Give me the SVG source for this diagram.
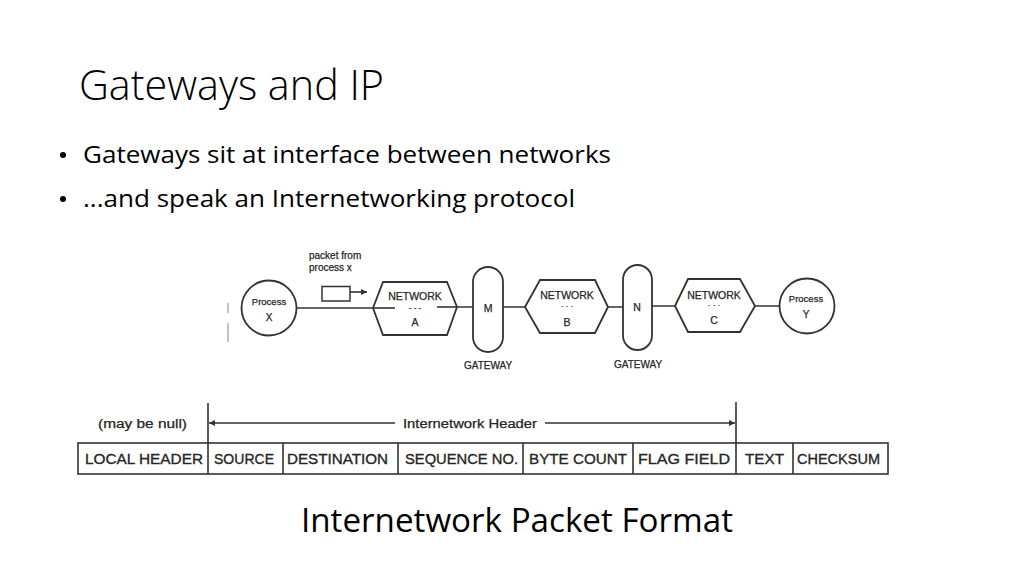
<svg xmlns="http://www.w3.org/2000/svg" width="1024" height="576" viewBox="0 0 1024 576">
<defs>
<style>
.slide{font-family:"Open Sans","Noto Sans",sans-serif;fill:#000}
.d{font-family:"Liberation Sans",Arial,sans-serif;fill:#262626;stroke:#262626;stroke-width:0.25}
.ln{stroke:#333;stroke-width:1.6;fill:none}
.sh{stroke:#333;stroke-width:1.8;fill:#fff}
.cell{font-family:"Liberation Sans",Arial,sans-serif;fill:#262626;stroke:#262626;stroke-width:0.35;font-size:15px}
</style>
<marker id="ah" viewBox="0 0 10 10" refX="10" refY="5" markerWidth="9" markerHeight="6" orient="auto-start-reverse" markerUnits="userSpaceOnUse">
<path d="M0,0 L10,5 L0,10 z" fill="#333"/>
</marker>
</defs>
<rect width="1024" height="576" fill="#fff"/>

<text class="slide" x="79" y="100" font-size="42" font-weight="300" textLength="305" lengthAdjust="spacingAndGlyphs">Gateways and IP</text>
<g id="bullets">
<circle cx="63" cy="155" r="3" fill="#000"/>
<text class="slide" x="83" y="163" font-size="23" textLength="528" lengthAdjust="spacingAndGlyphs">Gateways sit at interface between networks</text>
<circle cx="63" cy="199" r="3" fill="#000"/>
<text class="slide" x="83" y="207" font-size="23" textLength="492" lengthAdjust="spacingAndGlyphs">...and speak an Internetworking protocol</text>
</g>

<g id="connectors">
<line class="ln" x1="297" y1="308" x2="395" y2="308"/>
<line class="ln" x1="437" y1="307" x2="473" y2="307"/>
<line class="ln" x1="503" y1="307" x2="550" y2="307"/>
<line class="ln" x1="585" y1="307" x2="623" y2="307"/>
<line class="ln" x1="652" y1="306" x2="695" y2="306"/>
<line class="ln" x1="738" y1="306" x2="779" y2="306"/>
<line class="ln" x1="350" y1="292" x2="367" y2="292" marker-end="url(#ah)"/>
<line x1="228" y1="303" x2="228" y2="313" stroke="#999" stroke-width="1.2"/>
<line x1="228" y1="323" x2="228" y2="342" stroke="#999" stroke-width="1.2"/>
</g>

<g id="packet">
<rect x="322" y="286.5" width="28" height="14.5" fill="#fff" stroke="#333" stroke-width="1.5"/>
<text class="d" x="309" y="259" font-size="10">packet from</text>
<text class="d" x="309" y="271" font-size="10">process x</text>
</g>

<g id="processX">
<circle class="sh" cx="269" cy="308" r="27.5"/>
<text class="d" x="269" y="305" font-size="9.5" text-anchor="middle">Process</text>
<text class="d" x="269" y="321" font-size="10" text-anchor="middle">X</text>
</g>

<g id="networkA">
<polygon class="sh" points="373,308 383,282 447,282 457,307 447,335 383,335" fill="none"/>
<line class="ln" x1="373" y1="308" x2="395" y2="308"/>
<line class="ln" x1="437" y1="307" x2="457" y2="307"/>
<text class="d" x="415" y="300" font-size="10.5" text-anchor="middle">NETWORK</text>
<text class="d" x="415" y="310" font-size="8" text-anchor="middle">- - -</text>
<text class="d" x="415" y="326" font-size="10.5" text-anchor="middle">A</text>
</g>

<g id="gatewayM">
<rect class="sh" x="473" y="267" width="30" height="85" rx="15" ry="15"/>
<text class="d" x="488" y="312" font-size="10.5" text-anchor="middle">M</text>
<text class="d" x="488" y="369" font-size="10" text-anchor="middle">GATEWAY</text>
</g>

<g id="networkB">
<polygon class="sh" points="525,307 540,280 595,280 608,307 595,333 540,333" fill="none"/>
<text class="d" x="567" y="299" font-size="10.5" text-anchor="middle">NETWORK</text>
<text class="d" x="567" y="309" font-size="8" text-anchor="middle">· · ·</text>
<text class="d" x="567" y="326" font-size="10.5" text-anchor="middle">B</text>
</g>

<g id="gatewayN">
<rect class="sh" x="623" y="265" width="29" height="85" rx="14.5" ry="14.5"/>
<text class="d" x="637" y="311" font-size="10.5" text-anchor="middle">N</text>
<text class="d" x="638" y="368" font-size="10" text-anchor="middle">GATEWAY</text>
</g>

<g id="networkC">
<polygon class="sh" points="675,306 688,279 740,279 755,306 740,332 688,332" fill="none"/>
<text class="d" x="714" y="299" font-size="10.5" text-anchor="middle">NETWORK</text>
<text class="d" x="714" y="308" font-size="8" text-anchor="middle">· · ·</text>
<text class="d" x="714" y="324" font-size="10.5" text-anchor="middle">C</text>
</g>

<g id="processY">
<circle class="sh" cx="807" cy="306" r="27.5"/>
<text class="d" x="806" y="302" font-size="9.5" text-anchor="middle">Process</text>
<text class="d" x="806" y="318" font-size="10" text-anchor="middle">Y</text>
</g>

<g id="headerSpan">
<line class="ln" x1="208" y1="403" x2="208" y2="443"/>
<line class="ln" x1="736" y1="402" x2="736" y2="443"/>
<line class="ln" x1="209" y1="423" x2="395" y2="423" marker-start="url(#ah)"/>
<line class="ln" x1="545" y1="423" x2="735" y2="423" marker-end="url(#ah)"/>
<text class="d" x="98" y="428" font-size="12" textLength="89" lengthAdjust="spacingAndGlyphs">(may be null)</text>
<text class="d" x="403" y="428" font-size="12" textLength="134" lengthAdjust="spacingAndGlyphs">Internetwork Header</text>
</g>

<g id="packetFormat">
<rect x="78" y="443" width="810" height="31" fill="#fff" stroke="#333" stroke-width="1.6"/>
<g class="ln">
<line x1="208" y1="443" x2="208" y2="474"/>
<line x1="283" y1="443" x2="283" y2="474"/>
<line x1="398" y1="443" x2="398" y2="474"/>
<line x1="523" y1="443" x2="523" y2="474"/>
<line x1="633" y1="443" x2="633" y2="474"/>
<line x1="736" y1="443" x2="736" y2="474"/>
<line x1="793" y1="443" x2="793" y2="474"/>
</g>
<text class="cell" x="85" y="464" textLength="118" lengthAdjust="spacingAndGlyphs">LOCAL HEADER</text>
<text class="cell" x="214" y="464" textLength="60" lengthAdjust="spacingAndGlyphs">SOURCE</text>
<text class="cell" x="287" y="464" textLength="101" lengthAdjust="spacingAndGlyphs">DESTINATION</text>
<text class="cell" x="405" y="464" textLength="113" lengthAdjust="spacingAndGlyphs">SEQUENCE NO.</text>
<text class="cell" x="529" y="464" textLength="98" lengthAdjust="spacingAndGlyphs">BYTE COUNT</text>
<text class="cell" x="638" y="464" textLength="92" lengthAdjust="spacingAndGlyphs">FLAG FIELD</text>
<text class="cell" x="745" y="464" textLength="39" lengthAdjust="spacingAndGlyphs">TEXT</text>
<text class="cell" x="797" y="464" textLength="83" lengthAdjust="spacingAndGlyphs">CHECKSUM</text>
</g>

<text class="slide" x="301" y="532" font-size="33" textLength="432" lengthAdjust="spacingAndGlyphs">Internetwork Packet Format</text>
</svg>
